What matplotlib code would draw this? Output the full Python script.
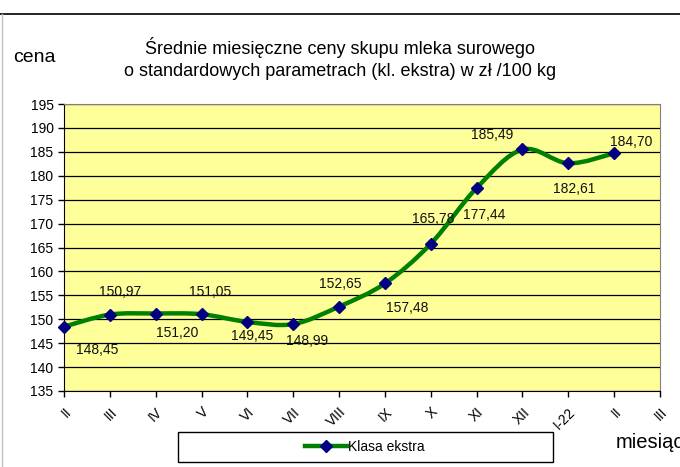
import numpy as np
import matplotlib
matplotlib.use("Agg")
import matplotlib.pyplot as plt
from matplotlib.path import Path
from matplotlib.patches import PathPatch, Rectangle
from matplotlib.lines import Line2D

plt.rcParams["font.family"] = ["Liberation Sans", "DejaVu Sans"]

months = ["II", "III", "IV", "V", "VI", "VII", "VIII", "IX", "X", "XI", "XII", "I-22", "II", "III"]
prices = [148.45, 150.97, 151.20, 151.05, 149.45, 148.99, 152.65, 157.48, 165.78, 177.44, 185.49, 182.61, 184.70]
labels = ["148,45", "150,97", "151,20", "151,05", "149,45", "148,99", "152,65",
          "157,48", "165,78", "177,44", "185,49", "182,61", "184,70"]
# label offsets in pixels (dx, dy) relative to each point
offsets = [(33, -23), (10, 23), (21, -19), (9, 22), (5, -14), (14, -17), (1, 23),
           (22, -25), (2, 25), (8, -27), (-30, 14), (6, -26), (17, 11)]

YEL, GREEN, NAVY = "#ffff99", "#008000", "#000080"

fig = plt.figure(figsize=(6.8, 4.67), dpi=100, facecolor="white")
ax = fig.add_axes([64 / 680, 1 - 391 / 467, 596 / 680, 287 / 467])
ax.set_facecolor(YEL)

x = np.arange(len(prices))
pts = np.column_stack([x, prices])

# Excel-like smoothed line (cubic Bezier through the points)
verts = [pts[0]]
codes = [Path.MOVETO]
n = len(pts)
for i in range(n - 1):
    p_prev = pts[max(i - 1, 0)]
    p0, p3 = pts[i], pts[i + 1]
    p_next = pts[min(i + 2, n - 1)]
    c1 = p0 + (p3 - p_prev) / 6
    c2 = p3 - (p_next - p0) / 6
    verts += [c1, c2, p3]
    codes += [Path.CURVE4] * 3
ax.add_patch(PathPatch(Path(verts, codes), facecolor="none", edgecolor=GREEN, lw=3.2, zorder=3))
ax.plot(x, prices, ls="none", marker="D", ms=6.5, color=NAVY, zorder=4, clip_on=False)

for xi, yi, lab, (dx, dy) in zip(x, prices, labels, offsets):
    ax.annotate(lab, (xi, yi), xytext=(dx, dy), textcoords="offset pixels",
                ha="center", va="center", fontsize=10, color="#111111")

ax.set_xlim(0, len(months) - 1)
ax.set_ylim(135, 195)
ax.set_yticks(np.arange(135, 196, 5))
ax.set_xticks(np.arange(len(months)))
ax.set_xticklabels(months, rotation=45, ha="right", va="top", rotation_mode="anchor")
ax.tick_params(axis="both", direction="out", length=4, width=1, labelsize=10, color="black")
ax.tick_params(axis="x", pad=6)
ax.grid(axis="y", color="black", lw=0.9)
ax.set_axisbelow(True)
for s in ["top", "right"]:
    ax.spines[s].set_color("#808080")
for s in ["left", "bottom"]:
    ax.spines[s].set_color("black")

fig.text(340 / 680, 1 - 48 / 467, "Średnie miesięczne ceny skupu mleka surowego",
         ha="center", va="center", fontsize=13)
fig.text(340 / 680, 1 - 71 / 467, "o standardowych parametrach (kl. ekstra) w zł /100 kg",
         ha="center", va="center", fontsize=13)
fig.text(13 / 680, 1 - 57 / 467, "cena", ha="left", va="center", fontsize=14)
# the reference crops this label at the right edge too
fig.text(616 / 680, 1 - 443 / 467, "miesiąc", ha="left", va="center", fontsize=14.5)

# legend box
fig.patches.append(Rectangle((178 / 680, 1 - 462 / 467), 375 / 680, 30 / 467,
                             transform=fig.transFigure, fill=False, edgecolor="black", lw=1))
handle = Line2D([], [], color=GREEN, lw=3.2, marker="D", ms=6, markerfacecolor=NAVY,
                markeredgecolor=NAVY)
fig.legend([handle], ["Klasa ekstra"], loc="center", bbox_to_anchor=(365 / 680, 1 - 447 / 467),
           frameon=False, fontsize=10, handlelength=3, handletextpad=0.1)

# chart-area border pieces
fig.add_artist(Line2D([0, 1], [1 - 14 / 467] * 2, color="black", lw=1.2, transform=fig.transFigure))
fig.add_artist(Line2D([2 / 680] * 2, [0, 1 - 14 / 467], color="#c0c0c0", lw=1, transform=fig.transFigure))

fig.savefig("out.png", dpi=100, facecolor="white")
